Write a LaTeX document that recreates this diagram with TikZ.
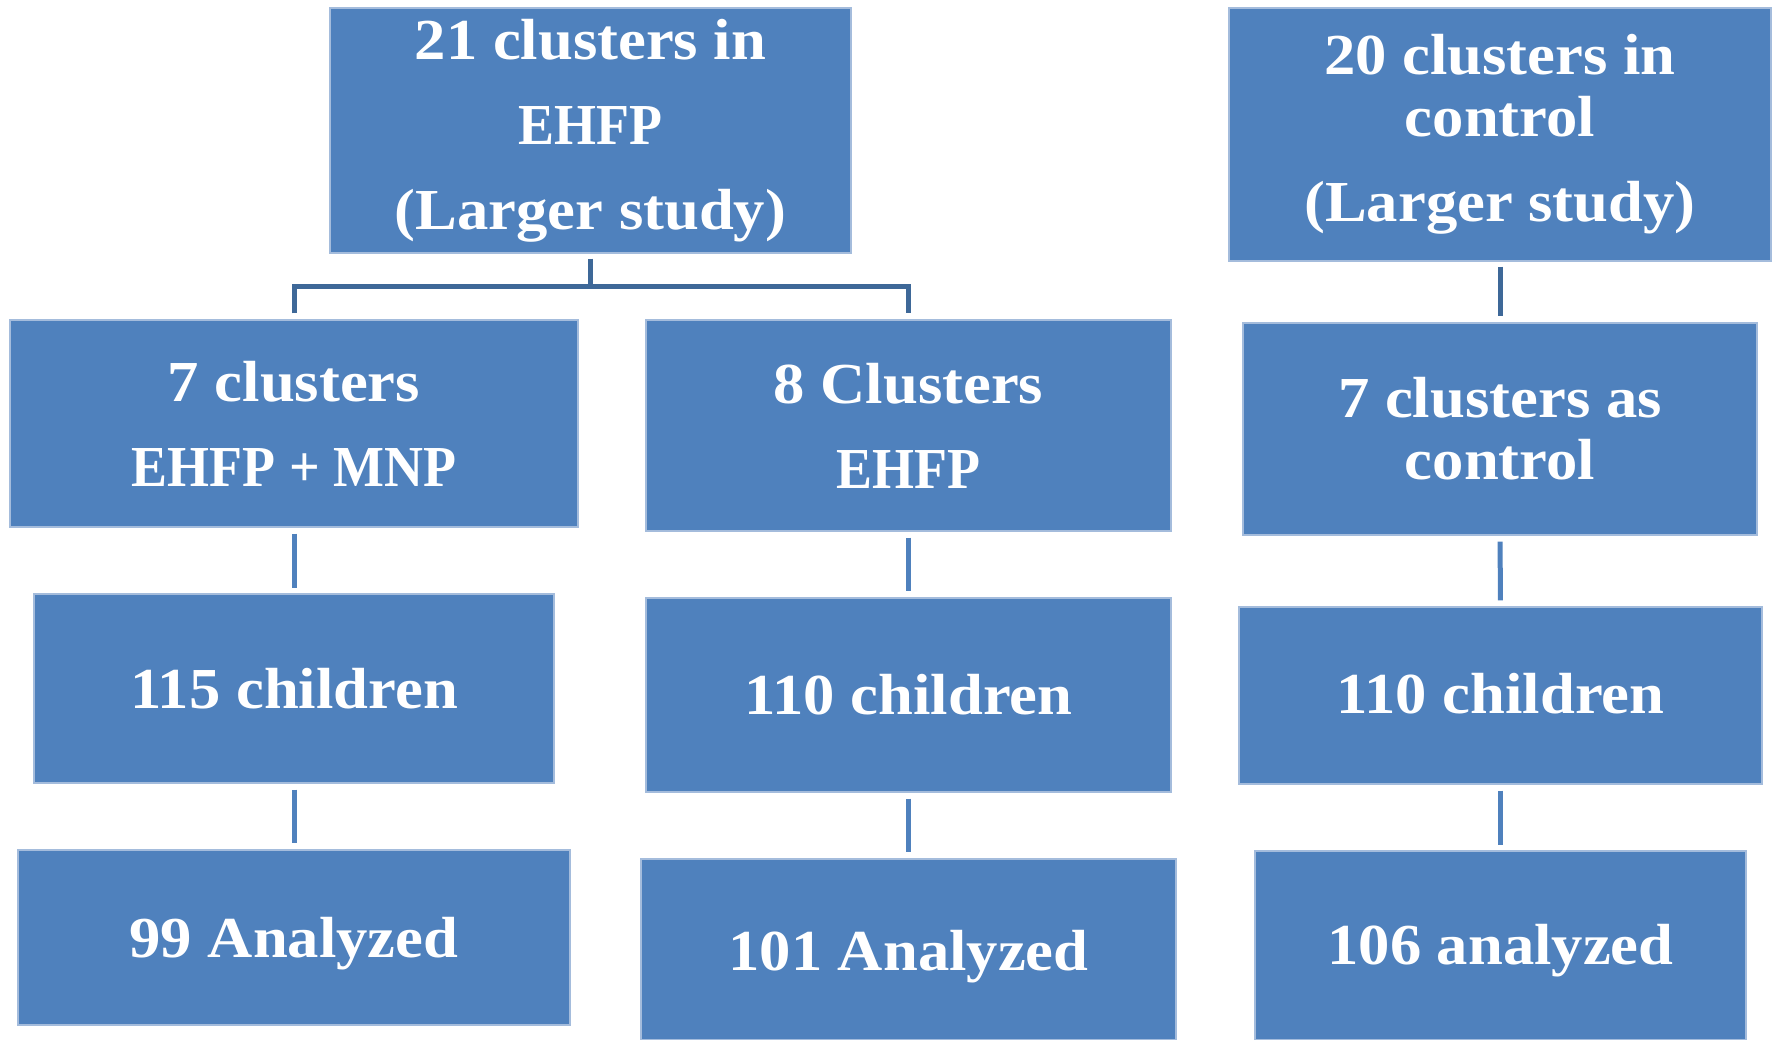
\documentclass[tikz,border=0pt]{standalone}
\usepackage{fontspec}
\setmainfont{Liberation Serif}[FakeStretch=1.08]
\newfontfamily\capsfont{Liberation Serif}[FakeStretch=0.93]
\definecolor{boxblue}{HTML}{4F81BD}
\definecolor{darkblue}{HTML}{3E6898}
\definecolor{edgeblue}{HTML}{A4BCDC}
\tikzset{
  box/.style={draw=edgeblue, line width=1.2pt, fill=boxblue, text=white,
    font=\bfseries\fontsize{58}{85}\selectfont, align=center, inner sep=0pt},
  lightline/.style={draw=boxblue, line width=5pt},
  darkline/.style={draw=darkblue, line width=5pt, line join=miter},
}
\newcommand{\mkbox}[6]{%
  \node[box, minimum width={(#4-#2)*1pt}, minimum height={(#5-#3)*1pt}]
    (#1) at ({(#2+#4)/2},{(#3+#5)/2}) {#6};}
\newcommand{\shiftdown}[2]{\raisebox{-#1}[\height][\depth]{#2}}
\begin{document}
\begin{tikzpicture}[x=1pt,y=-1pt]
\useasboundingbox (0,0) rectangle (1774,1040);
\mkbox{A}{330}{8}{851}{253}{21 clusters in\\{\capsfont EHFP}\\(Larger study)}
\mkbox{B}{1229}{8}{1771}{261}{20 clusters in\\[-23pt]control\\(Larger study)}
\mkbox{C}{10}{320}{578}{527}{7 clusters\\{\capsfont EHFP + MNP}}
\mkbox{D}{646}{320}{1171}{531}{8 Clusters\\{\capsfont EHFP}}
\mkbox{E}{1243}{323}{1757}{535}{7 clusters as\\[-23pt]control}
\mkbox{F}{34}{594}{554}{783}{115 children}
\mkbox{G}{646}{598}{1171}{792}{110 children}
\mkbox{H}{1239}{607}{1762}{784}{\shiftdown{-2pt}{110 children}}
\mkbox{I}{18}{850}{570}{1025}{\shiftdown{6pt}{99 Analyzed}}
\mkbox{J}{641}{859}{1176}{1040}{\shiftdown{7pt}{101 Analyzed}}
\mkbox{K}{1255}{851}{1746}{1040}{\shiftdown{5pt}{106 analyzed}}
\coordinate (bar) at (0,286.5);
\draw[darkline, shorten <=5pt] (A.south) -- (A.south |- bar);
\draw[darkline, shorten <=6pt, shorten >=6pt]
  (C.north) -- (C.north |- bar) -- (D.north |- bar) -- (D.north);
\draw[darkline, shorten <=5pt, shorten >=6pt] (B.south) -- (E.north);
\draw[lightline, shorten <=6pt, shorten >=5pt] (C.south) -- (F.north);
\draw[lightline, shorten <=6pt, shorten >=6pt] (D.south) -- (G.north);
\draw[lightline, shorten <=6pt, shorten >=6pt] (E.south) -- (H.north);
\draw[lightline, shorten <=6pt, shorten >=6pt] (F.south) -- (I.north);
\draw[lightline, shorten <=6pt, shorten >=6pt] (G.south) -- (J.north);
\draw[lightline, shorten <=6pt, shorten >=5pt] (H.south) -- (K.north);
\end{tikzpicture}
\end{document}
